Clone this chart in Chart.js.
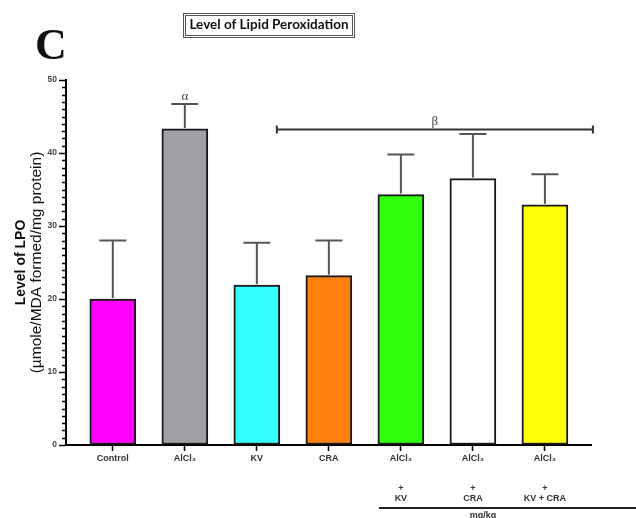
<!DOCTYPE html>
<html>
<head>
<meta charset="utf-8">
<script src="https://cdn.jsdelivr.net/npm/chart.js@4.4.1/dist/chart.umd.min.js"></script>
<style>
  html, body { margin: 0; padding: 0; background: #fff; }
  #wrap { width: 636px; height: 518px; position: relative; }
</style>
</head>
<body>
<div id="wrap"><canvas id="c" width="636" height="518"></canvas></div>
<script>
// ---- data ----
const categories = [
  ["Control"],
  ["AlCl\u2083"],
  ["KV"],
  ["CRA"],
  ["AlCl\u2083", "", "", "+", "KV"],
  ["AlCl\u2083", "", "", "+", "CRA"],
  ["AlCl\u2083", "", "", "+", "KV + CRA"]
];
const lpoMean = [20, 43.3, 21.9, 23.2, 34.3, 36.5, 32.9];
const lpoSD   = [8.0, 3.4, 5.8, 4.8, 5.5, 6.1, 4.2];
const barColors = ["#FF00FF", "#A19FA6", "#33FFFF", "#FF800C", "#2EFF0A", "#FFFFFF", "#FFFF0A"];
const yTicks = [0, 10, 20, 30, 40, 50];
const chartTitle = "Level of Lipid Peroxidation";
const panelLetter = "C";
const yTitle1 = "Level of LPO";
const yTitle2 = "(\u00B5mole/MDA formed/mg protein)";
const unitLabel = "mg/kg";
const alphaMarkIndex = 1;
const betaFrom = 2, betaTo = 6;

const LEFT = 66, RIGHT_PAD = 45, TOP = 80, BOTTOM_H = 73;

const decor = {
  id: 'decor',
  afterDatasetsDraw(chart) {
    const ctx = chart.ctx;
    const xs = chart.scales.x, ys = chart.scales.y;
    ctx.save();
    ctx.strokeStyle = '#555';
    ctx.lineWidth = 2;
    lpoMean.forEach((m, i) => {
      const x = xs.getPixelForValue(i);
      const y0 = ys.getPixelForValue(m);
      const y1 = ys.getPixelForValue(m + lpoSD[i]);
      ctx.beginPath();
      ctx.moveTo(x, y0 - 1); ctx.lineTo(x, y1);
      ctx.moveTo(x - 13.5, y1); ctx.lineTo(x + 13.5, y1);
      ctx.stroke();
    });
    ctx.restore();
  },
  afterDraw(chart) {
    const ctx = chart.ctx;
    const xs = chart.scales.x, ys = chart.scales.y;
    const ca = chart.chartArea;
    ctx.save();
    // minor y ticks
    ctx.strokeStyle = '#000';
    ctx.lineWidth = 1.5;
    for (let v = 1; v < 50; v++) {
      if (v % 10 === 0) continue;
      const y = Math.round(ys.getPixelForValue(v)) + 0.5;
      ctx.beginPath(); ctx.moveTo(ca.left - 4, y); ctx.lineTo(ca.left, y); ctx.stroke();
    }
    // alpha mark
    ctx.fillStyle = '#444';
    ctx.font = '13px "Liberation Serif"';
    ctx.textAlign = 'center';
    ctx.textBaseline = 'alphabetic';
    const ax = xs.getPixelForValue(alphaMarkIndex);
    const ay = ys.getPixelForValue(lpoMean[alphaMarkIndex] + lpoSD[alphaMarkIndex]);
    ctx.fillText('\u03B1', ax, ay - 4);
    // beta bracket
    const by = Math.round(ys.getPixelForValue(lpoMean[alphaMarkIndex])) + 0.5;
    const bx0 = xs.getPixelForValue(betaFrom) + 20;
    const bx1 = xs.getPixelForValue(betaTo) + 48;
    ctx.strokeStyle = '#333';
    ctx.lineWidth = 2;
    ctx.beginPath(); ctx.moveTo(bx0, by); ctx.lineTo(bx1, by); ctx.stroke();
    ctx.beginPath();
    ctx.moveTo(bx0, by - 4); ctx.lineTo(bx0, by + 4);
    ctx.moveTo(bx1, by - 4); ctx.lineTo(bx1, by + 4);
    ctx.stroke();
    ctx.fillText('\u03B2', (bx0 + bx1) / 2, by - 5);
    // unit line
    const ux0 = xs.getPixelForValue(4) - 22;
    ctx.strokeStyle = '#222';
    ctx.lineWidth = 2;
    ctx.beginPath(); ctx.moveTo(ux0, 508); ctx.lineTo(636, 508); ctx.stroke();
    ctx.fillStyle = '#333';
    ctx.font = 'bold 9px "Liberation Sans"';
    ctx.textBaseline = 'top';
    ctx.fillText(unitLabel, xs.getPixelForValue(5) + 10, 511);
    // y axis titles
    ctx.save();
    ctx.translate(21, (ca.top + ca.bottom) / 2);
    ctx.rotate(-Math.PI / 2);
    ctx.textAlign = 'center';
    ctx.textBaseline = 'middle';
    ctx.fillStyle = '#111';
    ctx.font = 'bold 14px "Liberation Sans"';
    ctx.fillText(yTitle1, 0, 0);
    ctx.font = '15.5px "Liberation Sans"';
    ctx.fillText(yTitle2, 0, 16);
    ctx.restore();
    // chart title box
    ctx.font = 'bold 13.5px Lato';
    ctx.textAlign = 'center';
    ctx.textBaseline = 'middle';
    ctx.fillStyle = '#111';
    const tw = ctx.measureText(chartTitle).width;
    const tx = 269, ty = 25;
    ctx.fillText(chartTitle, tx, ty);
    ctx.strokeStyle = '#555';
    ctx.lineWidth = 1;
    ctx.strokeRect(Math.round(tx - tw / 2 - 6) + 0.5, 13.5, Math.round(tw + 12), 24);
    ctx.strokeRect(Math.round(tx - tw / 2 - 4) + 0.5, 15.5, Math.round(tw + 8), 20);
    // panel letter
    ctx.font = 'bold 44px "Liberation Serif"';
    ctx.textAlign = 'left';
    ctx.textBaseline = 'alphabetic';
    ctx.fillStyle = '#111';
    ctx.fillText(panelLetter, 35, 59);
    ctx.restore();
  }
};

new Chart(document.getElementById('c'), {
  type: 'bar',
  data: {
    datasets: [{
      data: lpoMean.map((v, i) => ({ x: i, y: v })),
      backgroundColor: barColors,
      borderColor: '#1a1a1a',
      borderWidth: 2,
      borderSkipped: false,
      barThickness: 46
    }]
  },
  options: {
    responsive: false,
    animation: false,
    devicePixelRatio: 1,
    layout: { padding: { left: 0, right: RIGHT_PAD, top: TOP, bottom: 0 } },
    plugins: { legend: { display: false }, tooltip: { enabled: false }, title: { display: false } },
    scales: {
      x: {
        type: 'linear',
        offset: false,
        min: -0.65,
        max: 6.64,
        afterBuildTicks: s => { s.ticks = categories.map((_, i) => ({ value: i })); },
        afterFit: s => { s.height = BOTTOM_H; },
        border: { display: true, color: '#000', width: 2 },
        grid: { display: true, offset: false, drawOnChartArea: false, drawTicks: true, tickLength: 6, tickColor: '#000', tickWidth: 1.5 },
        ticks: {
          autoSkip: false,
          maxRotation: 0,
          padding: 3,
          color: '#333',
          font: { family: '"Liberation Sans"', size: 9, weight: 'bold', lineHeight: 1.1 },
          callback: v => categories[v]
        }
      },
      y: {
        min: 0,
        max: 50,
        afterBuildTicks: s => { s.ticks = yTicks.map(v => ({ value: v })); },
        afterFit: s => { s.width = LEFT; },
        border: { display: true, color: '#000', width: 2 },
        grid: { display: true, drawOnChartArea: false, drawTicks: true, tickLength: 7, tickColor: '#000', tickWidth: 1.5 },
        ticks: {
          padding: 2,
          color: '#444',
          font: { family: '"Liberation Sans"', size: 8.5, weight: 'bold' }
        }
      }
    }
  },
  plugins: [decor]
});
</script>
</body>
</html>
